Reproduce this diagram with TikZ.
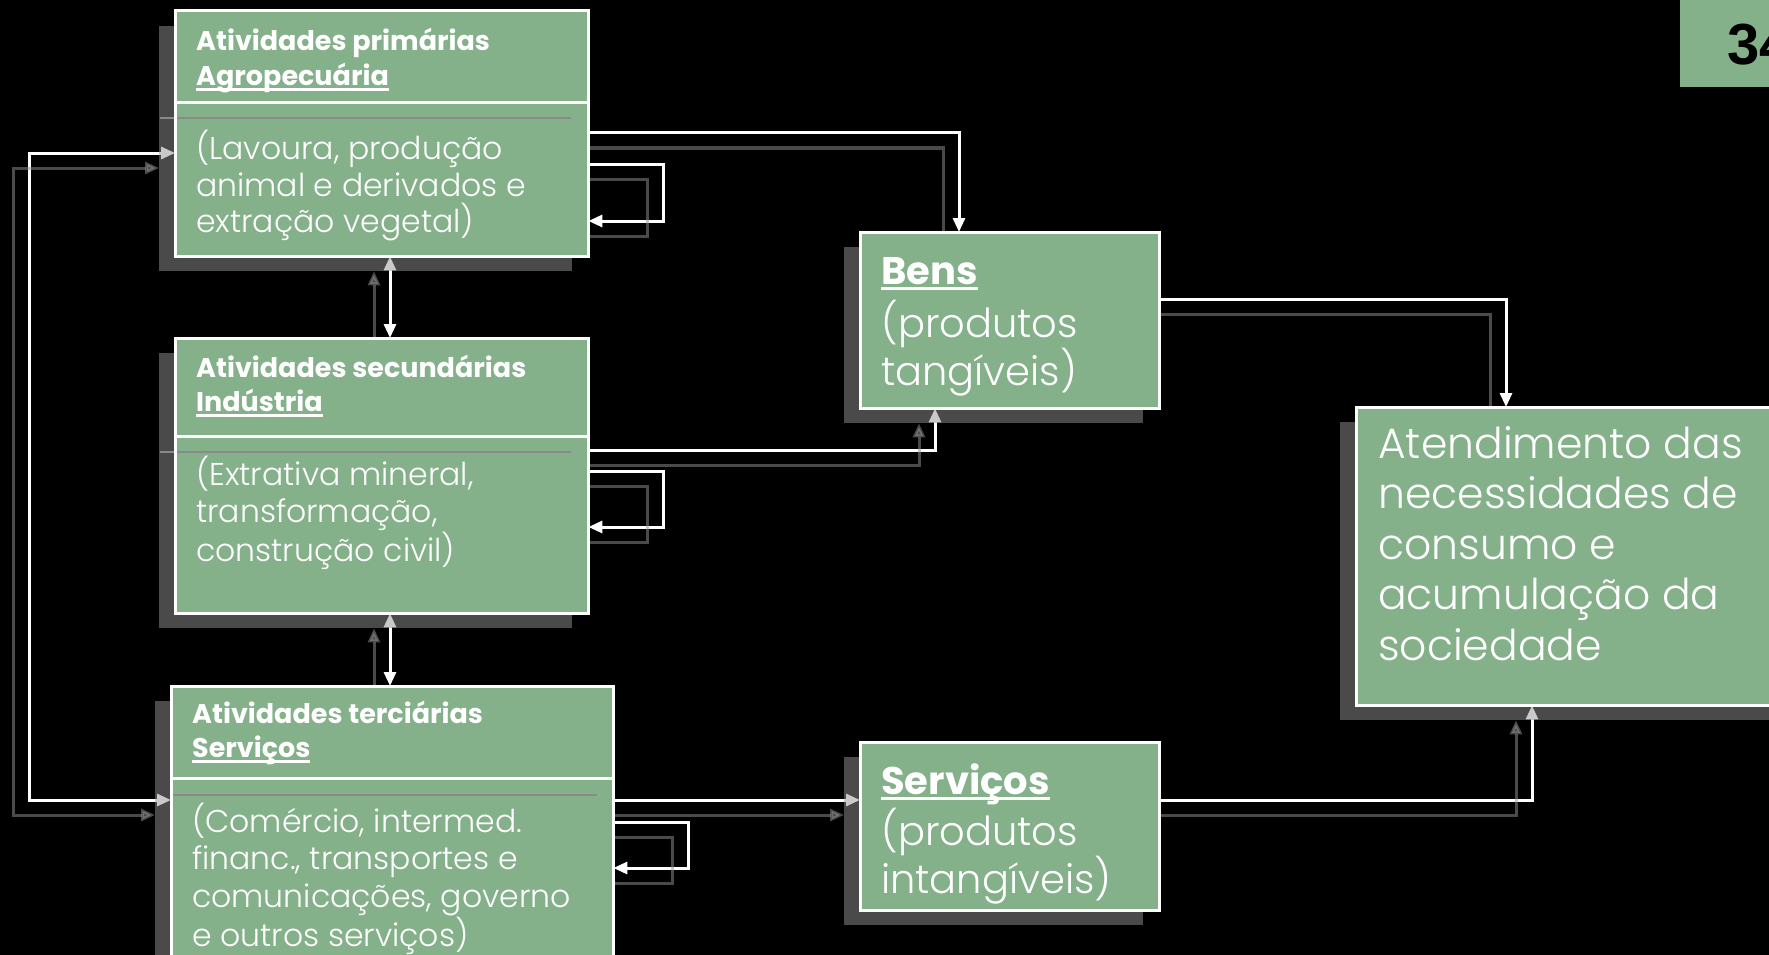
\documentclass[tikz,border=0pt]{standalone}
\usepackage{fontspec}
\setmainfont{Poppins}[UprightFont={* Light}, BoldFont={* Bold}]
\newfontfamily\numfont{Liberation Sans}
\usetikzlibrary{arrows.meta}

\definecolor{boxgreen}{RGB}{132,176,138}
\definecolor{shadegray}{RGB}{148,148,148}
\definecolor{rulegray}{RGB}{138,138,138}

% underline at a fixed depth, crossing the descenders
\newsavebox\ulsave
\newcommand\ulbox[1]{\sbox\ulsave{#1}\rlap{\rule[-5.5pt]{\wd\ulsave}{3pt}}\usebox\ulsave}
\newcommand\hdsize{\fontsize{27}{34.5}\selectfont\bfseries}

\pgfdeclarelayer{back}
\pgfdeclarelayer{links}
\pgfdeclarelayer{shade}
\pgfsetlayers{back,links,shade,main}

% all flow connectors, drawn once in white and once as the drop shadow
\newcommand\flowlinks[1]{%
  \draw[#1,arrowend] (prim.east |- 0,133) -| (959,0 |- bens.north);
  \draw[#1,arrowend] (prim.east |- 0,164) -- (663,164) -- (663,221) -- (prim.east |- 0,221);
  \draw[#1,arrowboth] (390,0 |- prim.south) -- (390,0 |- sec.north);
  \draw[#1,arrowend] (sec.east |- 0,450) -| (935,0 |- bens.south);
  \draw[#1,arrowend] (sec.east |- 0,471) -- (663,471) -- (663,527) -- (sec.east |- 0,527);
  \draw[#1,arrowboth] (390,0 |- sec.south) -- (390,0 |- ter.north);
  \draw[#1,arrowboth] (ter.west |- 0,800) -- (29,800) -- (29,153) -- (prim.west |- 0,153);
  \draw[#1,arrowend] (ter.east |- 0,800) -- (serv.west |- 0,800);
  \draw[#1,arrowend] (ter.east |- 0,822) -- (688,822) -- (688,868) -- (ter.east |- 0,868);
  \draw[#1,arrowend] (bens.east |- 0,299) -| (1506,0 |- aten.north);
  \draw[#1,arrowend] (serv.east |- 0,800) -| (1532,0 |- aten.south);
}

\begin{document}
\begin{tikzpicture}[x=1pt,y=-1pt,
  box/.style={fill=boxgreen, draw=none, inner sep=0pt, anchor=north west},
  rim/.style={draw=white, line width=3pt},
  wire/.style={draw=white, line width=3pt},
  shadewire/.style={draw=shadegray, line width=3pt, opacity=0.5},
  ghostbox/.style={fill=shadegray, opacity=0.5},
  seam/.style={draw=rulegray, line width=2.5pt},
  arrowend/.style={-{Triangle[length=14pt,width=12pt]}},
  arrowboth/.style={{Triangle[length=14pt,width=12pt]}-{Triangle[length=14pt,width=12pt]}},
  txt/.style={inner sep=0pt, anchor=base west, text=white, align=left},
]
\useasboundingbox (0,0) rectangle (1769,955);
\begin{pgfonlayer}{back}
  \fill[black] (0,0) rectangle (1769,955);
\end{pgfonlayer}

% boxes
\node[box, minimum width=413pt, minimum height=245pt] (prim) at (175,11) {};
\node[box, minimum width=413pt, minimum height=275pt] (sec) at (175,338) {};
\node[box, minimum width=442pt, minimum height=290pt] (ter) at (171,686) {};
\node[box, minimum width=299pt, minimum height=176pt] (bens) at (860,232) {};
\node[box, minimum width=299pt, minimum height=168pt] (serv) at (860,742) {};
\node[box, minimum width=440pt, minimum height=298pt] (aten) at (1356,407) {};
\node[box, minimum width=100pt, minimum height=92pt] (pg) at (1680,-5) {};

% shadow of the header rules, lying across the boxes
\draw[seam] (160,118) -- (571,118);
\draw[seam] (160,452) -- (571,452);
\draw[seam] (170,795) -- (597,795);

% white frames and header rules
\foreach \b in {prim,sec,ter,bens,serv,aten}
  \draw[rim] (\b.north west) rectangle (\b.south east);
\draw[rim] (prim.west |- 0,103) -- (prim.east |- 0,103);
\draw[rim] (sec.west |- 0,436) -- (sec.east |- 0,436);
\draw[rim] (ter.west |- 0,778) -- (ter.east |- 0,778);

% connectors
\begin{pgfonlayer}{links}
  \flowlinks{wire}
\end{pgfonlayer}

% drop shadows
\begin{pgfonlayer}{shade}
\begin{scope}[transform canvas={shift={(-16pt,-15pt)}}]
  \foreach \b in {prim,sec,ter,bens,serv,aten}
    \fill[ghostbox] (\b.north west) rectangle (\b.south east);
  \flowlinks{shadewire}
\end{scope}
\end{pgfonlayer}

% texts
\node[txt] (primhd) at (196,51) {\parbox[t]{380pt}{\hdsize Atividades primárias\\\ulbox{Agropecuária}}};
\node[txt] (primtx) at (196,160) {\parbox[t]{390pt}{\fontsize{31.5}{36.5}\selectfont (Lavoura, produção\\animal e derivados e\\extração vegetal)}};

\node[txt] (sechd) at (196,377) {\parbox[t]{380pt}{\hdsize Atividades secundárias\\\ulbox{Indústria}}};
\node[txt] (sectx) at (196,485) {\parbox[t]{390pt}{\fontsize{31.5}{37.5}\selectfont (Extrativa mineral,\\transformação,\\construção civil)}};

\node[txt] (terhd) at (192,723) {\parbox[t]{400pt}{\hdsize Atividades terciárias\\\ulbox{Serviços}}};
\node[txt] (tertx) at (192,832) {\parbox[t]{420pt}{\fontsize{31.5}{37.7}\selectfont (Comércio, intermed.\\financ., transportes e\\comunicações, governo\\e outros serviços)}};

\node[txt] (benshd) at (881,284) {\fontsize{38.5}{44}\selectfont\bfseries\ulbox{Bens}};
\node[txt] (benstx) at (881,337) {\parbox[t]{270pt}{\fontsize{40}{48}\selectfont (produtos\\tangíveis)}};

\node[txt] (servhd) at (881,794) {\fontsize{38.5}{44}\selectfont\bfseries\ulbox{Serviços}};
\node[txt] (servtx) at (881,845) {\parbox[t]{270pt}{\fontsize{40}{48}\selectfont (produtos\\intangíveis)}};

\node[txt] (atentx) at (1378,458) {\parbox[t]{390pt}{\fontsize{42.5}{50.5}\selectfont Atendimento das\\necessidades de\\consumo e\\acumulação da\\sociedade}};

\node[txt, text=black] (pgnum) at (1727,65) {\numfont\bfseries\fontsize{58}{60}\selectfont 34};
\end{tikzpicture}
\end{document}
